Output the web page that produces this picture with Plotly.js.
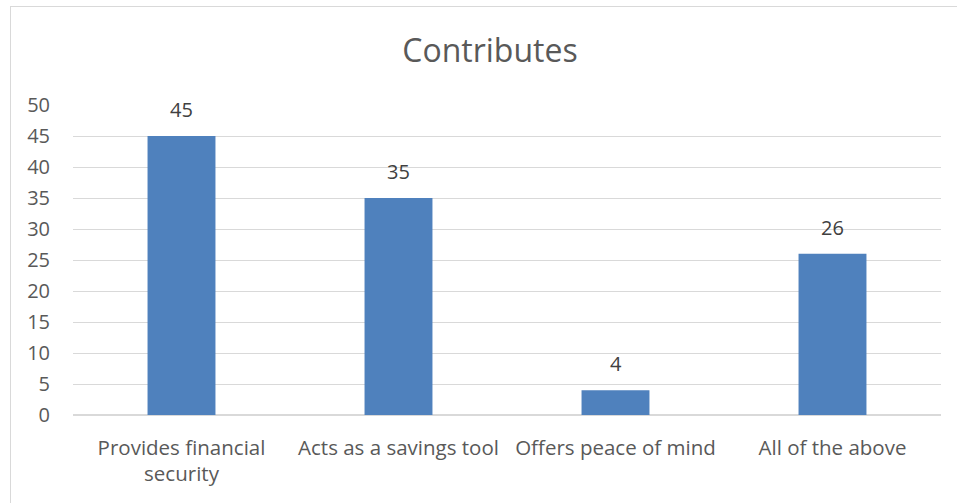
<!DOCTYPE html>
<html><head><meta charset="utf-8">
<script src="https://cdn.plot.ly/plotly-3.0.1.min.js"></script>
<style>
html,body{margin:0;padding:0;background:#fff;}
#wrap{position:relative;width:957px;height:503px;overflow:hidden;}
#chart{width:957px;height:503px;}
#frame{position:absolute;left:10px;top:6px;width:1000px;height:600px;border:1.5px solid #d9d9d9;pointer-events:none;box-sizing:border-box;}
</style></head>
<body>
<div id="wrap"><div id="chart"></div><div id="frame"></div></div>
<script>
const categories = ["Provides financial<br>security", "Acts as a savings tool", "Offers peace of mind", "All of the above"];
const values = [45, 35, 4, 26];
const tickVals = [0, 5, 10, 15, 20, 25, 30, 35, 40, 45, 50];

const font = "'Open Sans', 'Noto Sans', sans-serif";
const trace = {
  type: 'bar', x: categories, y: values,
  marker: {color: '#4f81bd'},
  width: 0.313,
  hoverinfo: 'none'
};
const annotations = categories.map((c, i) => ({
  x: c, y: values[i], xref: 'x', yref: 'y', text: String(values[i]),
  showarrow: false, yanchor: 'bottom', yshift: 11,
  font: {family: font, size: 20, color: '#404040'}
}));
const layout = {
  width: 957, height: 503,
  margin: {l: 73, r: 16, t: 105, b: 88},
  paper_bgcolor: '#fff', plot_bgcolor: '#fff',
  title: {text: 'Contributes', xref: 'container', x: 0.512, xanchor: 'center', yref: 'container', y: 0.9, yanchor: 'middle',
          font: {family: font, size: 32, color: '#595959'}},
  showlegend: false,
  xaxis: {showgrid: false, zeroline: false, showline: false, ticks: '',
          ticklabelstandoff: 18,
          tickfont: {family: font, size: 20.5, color: '#595959'}, fixedrange: true},
  yaxis: {range: [0, 50], tickvals: tickVals, showgrid: true, gridcolor: '#d9d9d9', gridwidth: 1,
          zeroline: true, zerolinecolor: '#d9d9d9', zerolinewidth: 1.5, showline: false, ticks: '',
          ticklabelstandoff: 22,
          tickfont: {family: font, size: 20, color: '#595959'}, fixedrange: true},
  annotations: annotations
};
Plotly.newPlot('chart', [trace], layout, {displayModeBar: false, staticPlot: true});
</script>
</body></html>
